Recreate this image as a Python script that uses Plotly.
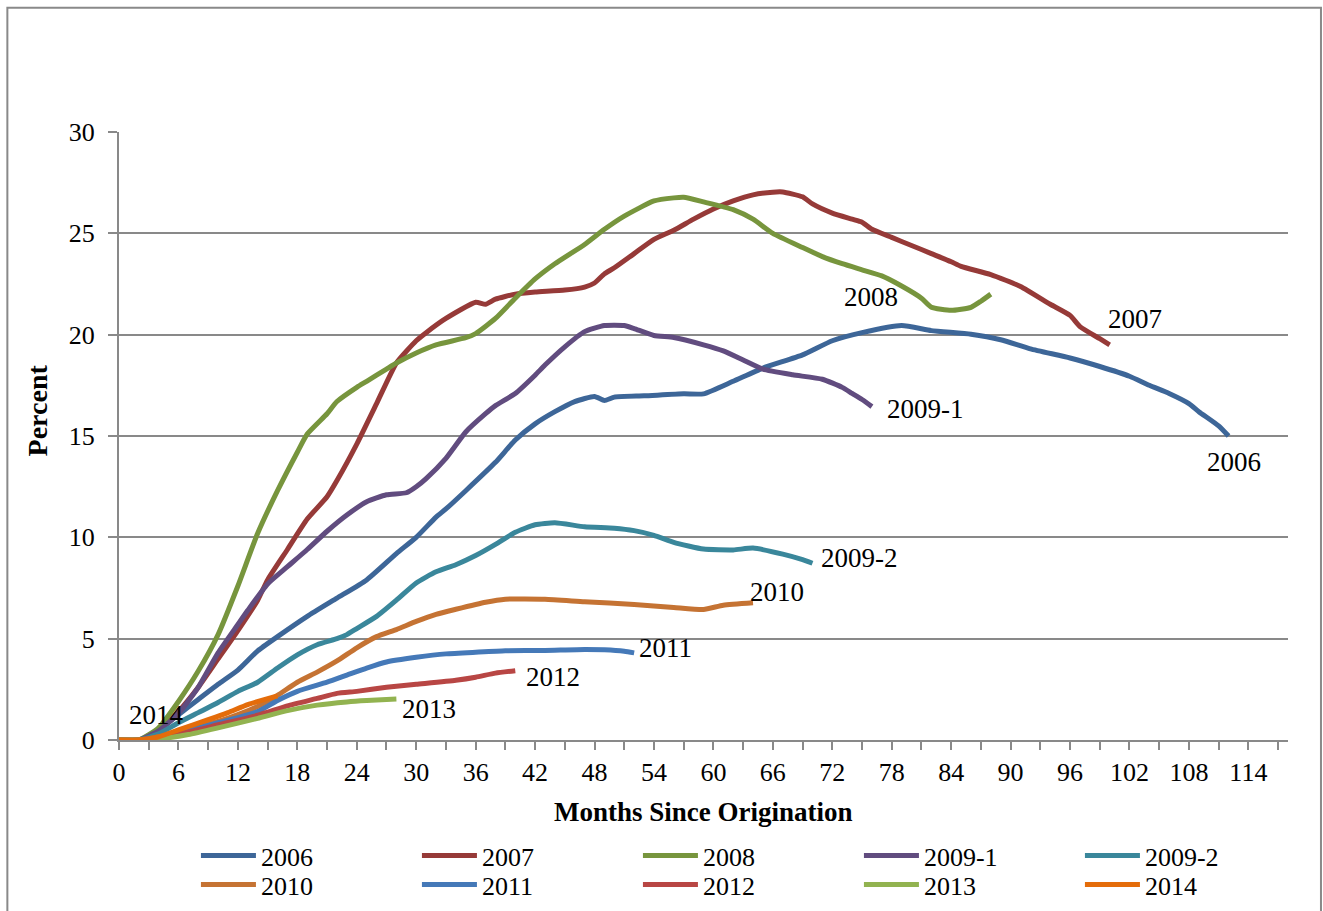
import plotly.graph_objects as go

# ---- data (months since origination, percent) ----
m_2006 = [0, 2, 4, 6, 8, 10, 12, 14, 16, 19, 22, 25, 28, 30, 32, 33, 35, 38, 40, 42, 44, 46, 48, 49, 50, 53, 57, 59, 62, 65, 69, 72, 75, 79, 82, 86, 89, 92, 96, 99, 102, 104, 106, 108, 109, 111, 112]
v_2006 = [0, 0, 0.5, 1.25, 2.0, 2.75, 3.45, 4.4, 5.1, 6.1, 7.0, 7.9, 9.2, 10.0, 11.0, 11.4, 12.3, 13.7, 14.8, 15.6, 16.2, 16.7, 16.95, 16.75, 16.92, 16.98, 17.08, 17.08, 17.7, 18.35, 19.0, 19.7, 20.1, 20.45, 20.2, 20.02, 19.75, 19.3, 18.85, 18.43, 17.95, 17.5, 17.1, 16.6, 16.2, 15.5, 15.0]

m_2007 = [0, 2, 4, 6, 8, 10, 12, 14, 15, 17, 19, 21, 22, 24, 26, 28, 30, 31, 33, 36, 37, 38, 40, 42, 45, 47, 48, 49, 50, 52, 54, 56, 58, 60, 62, 64, 66, 67, 69, 70, 72, 74, 75, 76, 78, 80, 82, 84, 85, 88, 91, 94, 96, 97, 99, 100]
v_2007 = [0, 0, 0.45, 1.4, 2.6, 4.0, 5.4, 6.9, 7.9, 9.4, 10.9, 12.0, 12.8, 14.6, 16.6, 18.6, 19.7, 20.1, 20.8, 21.6, 21.5, 21.75, 22.0, 22.1, 22.2, 22.35, 22.55, 23.0, 23.3, 24.0, 24.7, 25.15, 25.7, 26.2, 26.6, 26.9, 27.03, 27.04, 26.8, 26.45, 26.0, 25.7, 25.55, 25.2, 24.8, 24.4, 24.0, 23.6, 23.37, 22.96, 22.38, 21.5, 20.95, 20.4, 19.8, 19.5]

m_2008 = [0, 2, 4, 6, 8, 10, 12, 14, 16, 18, 19, 21, 22, 24, 25, 27, 28, 30, 32, 35, 36, 38, 40, 42, 44, 47, 49, 51, 54, 56, 57, 59, 62, 64, 66, 69, 71, 73, 75, 77, 79, 81, 82, 84, 86, 87, 88]
v_2008 = [0, 0, 0.6, 1.9, 3.4, 5.2, 7.6, 10.2, 12.3, 14.2, 15.1, 16.1, 16.7, 17.4, 17.7, 18.3, 18.6, 19.1, 19.5, 19.85, 20.05, 20.8, 21.8, 22.75, 23.5, 24.45, 25.2, 25.85, 26.6, 26.75, 26.78, 26.55, 26.17, 25.7, 25.0, 24.3, 23.85, 23.5, 23.2, 22.9, 22.4, 21.8, 21.35, 21.2, 21.35, 21.65, 22.0]

m_2009_1 = [0, 2, 4, 6, 8, 10, 12, 13, 15, 17, 19, 21, 23, 25, 27, 29, 30, 31, 33, 35, 37, 38, 40, 42, 43, 45, 47, 49, 51, 52, 54, 56, 59, 61, 63, 65, 68, 71, 73, 74, 75, 76]
v_2009_1 = [0, 0, 0.45, 1.3, 2.6, 4.3, 5.7, 6.4, 7.7, 8.55, 9.4, 10.3, 11.1, 11.76, 12.1, 12.2, 12.5, 12.9, 13.9, 15.2, 16.1, 16.5, 17.1, 18.0, 18.5, 19.4, 20.15, 20.45, 20.45, 20.3, 19.96, 19.86, 19.5, 19.2, 18.75, 18.3, 18.02, 17.8, 17.4, 17.1, 16.8, 16.45]

m_2009_2 = [0, 2, 4, 6, 8, 10, 12, 14, 16, 18, 20, 22, 23, 24, 26, 28, 30, 32, 34, 36, 38, 40, 42, 44, 47, 50, 52, 54, 56, 59, 62, 64, 67, 69, 70]
v_2009_2 = [0, 0, 0.3, 0.85, 1.35, 1.85, 2.4, 2.85, 3.55, 4.2, 4.7, 5.0, 5.2, 5.5, 6.1, 6.9, 7.75, 8.3, 8.65, 9.1, 9.65, 10.25, 10.62, 10.72, 10.52, 10.45, 10.33, 10.1, 9.75, 9.42, 9.38, 9.47, 9.17, 8.9, 8.72]

m_2010 = [0, 2, 4, 6, 8, 10, 12, 14, 16, 18, 20, 22, 24, 26, 28, 30, 32, 34, 37, 39, 43, 47, 52, 56, 59, 61, 64]
v_2010 = [0, 0, 0.15, 0.38, 0.7, 0.92, 1.25, 1.65, 2.2, 2.85, 3.35, 3.9, 4.55, 5.1, 5.45, 5.85, 6.2, 6.45, 6.8, 6.95, 6.95, 6.82, 6.69, 6.54, 6.44, 6.65, 6.77]

m_2011 = [0, 2, 4, 6, 8, 10, 12, 14, 16, 18, 21, 23, 25, 27, 30, 33, 36, 39, 43, 47, 49, 51, 52]
v_2011 = [0, 0, 0.15, 0.35, 0.6, 0.85, 1.1, 1.4, 1.95, 2.4, 2.85, 3.2, 3.55, 3.85, 4.08, 4.25, 4.33, 4.4, 4.42, 4.47, 4.45, 4.38, 4.3]

m_2012 = [0, 2, 4, 7, 10, 14, 17, 20, 22, 24, 27, 30, 34, 36, 38, 40]
v_2012 = [0, 0, 0.12, 0.4, 0.75, 1.22, 1.68, 2.05, 2.3, 2.4, 2.6, 2.75, 2.95, 3.1, 3.3, 3.42]

m_2013 = [0, 2, 4, 7, 10, 14, 17, 20, 23, 25, 28]
v_2013 = [0, 0, 0.05, 0.27, 0.6, 1.07, 1.45, 1.72, 1.88, 1.95, 2.02]

m_2014 = [0, 2, 4, 6, 9, 11, 13, 16]
v_2014 = [0, 0, 0.16, 0.5, 1.0, 1.35, 1.75, 2.18]

series_names = ["2006", "2007", "2008", "2009-1", "2009-2", "2010", "2011", "2012", "2013", "2014"]
series_months = [m_2006, m_2007, m_2008, m_2009_1, m_2009_2, m_2010, m_2011, m_2012, m_2013, m_2014]
series_values = [v_2006, v_2007, v_2008, v_2009_1, v_2009_2, v_2010, v_2011, v_2012, v_2013, v_2014]
series_colors = ["#3D6698", "#963A38", "#77953D", "#614C7F", "#3A879B",
                 "#C57333", "#4579B8", "#B84644", "#92B350", "#E46C0A"]

# data-label positions (months, percent)
label_x = [112.5, 102.6, 75.9, 81.4, 74.7, 66.4, 55.2, 43.8, 31.3, 3.8]
label_y = [13.72, 20.78, 21.87, 16.33, 8.97, 7.30, 4.53, 3.10, 1.51, 1.22]

x_ticks = list(range(0, 115, 6))
y_ticks = [0, 5, 10, 15, 20, 25, 30]

FONT = "Liberation Serif, Times New Roman, serif"
GRID = "#898989"

fig = go.Figure()
for i, (name, mx, vy, col) in enumerate(zip(series_names, series_months, series_values, series_colors)):
    fig.add_trace(go.Scatter(
        x=mx, y=vy, name=name, mode="lines",
        legend="legend" if i < 5 else "legend2",
        line=dict(color=col, width=5, shape="spline", smoothing=0.5),
    ))

for name, lx, ly in zip(series_names, label_x, label_y):
    fig.add_annotation(x=lx, y=ly, xref="x", yref="y", text=name, showarrow=False,
                       font=dict(family=FONT, size=27, color="black"))

fig.add_annotation(x=0.5, y=-0.1186, xref="paper", yref="paper", text="<b>Months Since Origination</b>",
                   xanchor="center", yanchor="middle",
                   showarrow=False, font=dict(family=FONT, size=27, color="black"))
fig.add_annotation(x=-0.0689, y=0.5428, xref="paper", yref="paper", text="<b>Percent</b>",
                   xanchor="center", yanchor="middle",
                   textangle=-90, showarrow=False, font=dict(family=FONT, size=28, color="black"))

# outer chart border
fig.add_shape(type="rect", xref="paper", yref="paper", x0=-0.0955, x1=1.0282, y0=-0.3, y1=1.2045,
              line=dict(color=GRID, width=2), fillcolor="rgba(0,0,0,0)", layer="below")

fig.update_xaxes(
    range=[0, 118], tickmode="array", tickvals=x_ticks, ticktext=[str(t) for t in x_ticks],
    showgrid=False, showline=True, linecolor=GRID, linewidth=2,
    ticks="outside", ticklen=8, tickwidth=2, tickcolor=GRID,
    minor=dict(dtick=3, tick0=0, ticks="outside", ticklen=8, tickwidth=2, tickcolor=GRID, showgrid=False),
    tickfont=dict(family=FONT, size=26, color="black"), zeroline=False,
)
fig.update_yaxes(
    range=[0, 30], tickmode="array", tickvals=y_ticks,
    showgrid=True, gridcolor=GRID, gridwidth=2, showline=True, linecolor=GRID, linewidth=2,
    ticks="outside", ticklen=9, tickwidth=2, tickcolor=GRID, ticklabelstandoff=8,
    tickfont=dict(family=FONT, size=26, color="black"), zeroline=False,
)

legend_common = dict(orientation="h", xref="container", yref="container",
                     x=0.1481, xanchor="left", yanchor="top",
                     entrywidth=151, entrywidthmode="pixels", itemwidth=55,
                     font=dict(family=FONT, size=26, color="black"), bgcolor="rgba(0,0,0,0)",
                     tracegroupgap=0)

fig.update_layout(
    width=1323, height=911,
    margin=dict(l=119, r=35, t=132, b=171),
    paper_bgcolor="white", plot_bgcolor="white",
    font=dict(family=FONT, size=26, color="black"),
    showlegend=True,
    legend=dict(y=0.0867, **legend_common),
    legend2=dict(y=0.0549, **legend_common),
)

fig.write_html("out.html", config={"displayModeBar": False},
               post_script="document.body.style.margin='0px';")
